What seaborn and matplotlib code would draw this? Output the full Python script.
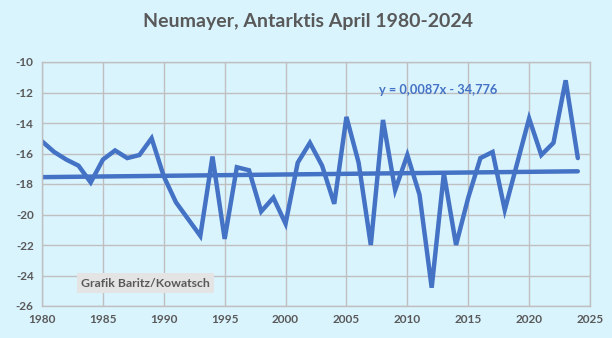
import numpy as np
import pandas as pd
import matplotlib
matplotlib.use("Agg")
import matplotlib.pyplot as plt
import seaborn as sns

years = list(range(1980, 2025))
april_temp = [
    -15.2, -15.9, -16.4, -16.8, -17.9, -16.4, -15.8, -16.3, -16.1, -15.0,
    -17.5, -19.2, -20.3, -21.4, -16.2, -21.6, -16.9, -17.1, -19.8, -18.9,
    -20.6, -16.6, -15.3, -16.8, -19.3, -13.6, -16.6, -22.0, -13.8, -18.4,
    -16.1, -18.7, -24.8, -17.3, -22.0, -18.9, -16.3, -15.9, -19.7, -16.7,
    -13.7, -16.1, -15.3, -11.2, -16.3,
]
trend_slope = 0.0087
trend_intercept = -34.776

bg = "#DAF4FE"
blue = "#4472C4"
grey_text = "#595959"

sns.set_theme(style="whitegrid")
plt.rcParams["font.family"] = ["Lato", "DejaVu Sans"]
plt.rcParams["axes.unicode_minus"] = False

df = pd.DataFrame({"Jahr": years, "Temp": april_temp})
df["Trend"] = trend_slope * df["Jahr"] + trend_intercept

fig = plt.figure(figsize=(6.12, 3.38), dpi=100, facecolor=bg)
ax = fig.add_axes([42 / 612, 1 - 306 / 338, (590 - 42) / 612, (306 - 62) / 338])
ax.set_facecolor(bg)

sns.lineplot(data=df, x="Jahr", y="Temp", ax=ax, color=blue, lw=3.2,
             solid_joinstyle="miter", solid_capstyle="round")
sns.lineplot(data=df, x="Jahr", y="Trend", ax=ax, color=blue, lw=3.2,
             solid_capstyle="round")

ax.set_xlim(1980, 2025)
ax.set_ylim(-26, -10)
ax.set_xticks(range(1980, 2026, 5))
ax.set_yticks(range(-26, -9, 2))
ax.grid(True, color="#BFBFBF", lw=1.0)
for s in ax.spines.values():
    s.set_visible(True)
    s.set_color("#BFBFBF")
    s.set_linewidth(1.0)
ax.set_xlabel("")
ax.set_ylabel("")
ax.tick_params(axis="both", length=0, labelsize=8.5, labelcolor=grey_text, pad=6)
for lab in ax.get_xticklabels() + ax.get_yticklabels():
    lab.set_fontweight("bold")

fig.text(308 / 612, 1 - 21 / 338, "Neumayer, Antarktis April 1980-2024",
         ha="center", va="center", fontsize=14, fontweight="bold", color=grey_text)

ax.text(2012.5, -11.85, "y = 0,0087x - 34,776", ha="center", va="center",
        fontsize=9.2, fontweight="bold", color=blue)

ax.text(1983.2, -24.5, "Grafik Baritz/Kowatsch", ha="left", va="center",
        fontsize=8.8, fontweight="bold", color=grey_text,
        bbox=dict(boxstyle="square,pad=0.35", facecolor="#E4E4E4", edgecolor="none"))

fig.savefig("out.png", dpi=100, facecolor=bg)
